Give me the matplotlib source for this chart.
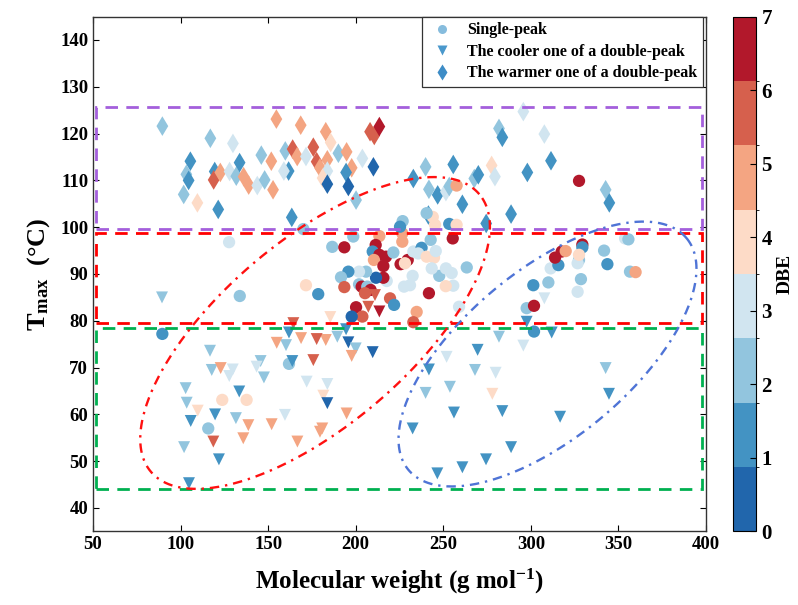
import numpy as np
import matplotlib
matplotlib.use("Agg")
import matplotlib.pyplot as plt
from matplotlib.colors import ListedColormap, BoundaryNorm
from matplotlib.lines import Line2D
from matplotlib.patches import Rectangle

plt.rcParams['font.family'] = ['Liberation Serif', 'DejaVu Serif']
plt.rcParams['font.weight'] = 'bold'
plt.rcParams['mathtext.fontset'] = 'custom'
plt.rcParams['mathtext.rm'] = 'Liberation Serif:bold'
plt.rcParams['mathtext.bf'] = 'Liberation Serif:bold'
plt.rcParams['mathtext.it'] = 'Liberation Serif:bold'

# ---------------- data ----------------
# Single-peak (circles)
single_x = [127.7, 133.8, 89.6, 115.8, 123.8, 137.7, 161.9, 170.1, 186.6, 193.5, 198.6, 213.5,
            211.4, 209.7, 213.5, 217.3, 210.4, 215.8, 221.5, 225.6, 229.7, 228.1, 226.6, 226.6,
            232.9, 237.6, 235.7, 240.5, 244.7, 245.7, 242.8, 255.4, 254.8, 247.7, 243.4, 251.5,
            263.4, 255.7, 251.4, 241.8, 232.5, 227.6, 231.0, 217.7, 215.8, 211.6, 205.9, 201.9,
            195.8, 191.6, 171.6, 178.6, 193.5, 201.9, 203.4, 206.6, 208.5, 205.3, 219.6, 221.9,
            200.2, 203.8, 197.7, 234.8, 232.9, 259.0, 226.8, 225.3, 244.0, 245.3, 253.4, 257.6,
            257.6, 327.5, 297.6, 301.8, 301.8, 301.4, 310.0, 311.3, 315.7, 313.8, 317.6, 319.9,
            327.5, 326.7, 329.4, 329.4, 327.5, 328.6, 326.7, 341.8, 343.7, 353.8, 355.7, 356.6,
            359.8, 240.5]
single_y = [96.8, 85.3, 77.2, 57.0, 63.1, 63.1, 70.8, 99.6, 95.8, 95.7, 98.0, 98.1,
            96.2, 94.8, 94.1, 93.7, 93.0, 91.7, 94.6, 92.1, 93.0, 92.3, 98.7, 96.9,
            94.8, 95.6, 94.4, 93.7, 93.5, 94.9, 97.3, 97.6, 90.2, 89.6, 91.2, 91.2,
            91.4, 87.5, 87.4, 85.9, 89.6, 87.3, 87.6, 88.5, 89.2, 89.2, 90.5, 90.5,
            90.5, 89.3, 87.6, 85.7, 87.2, 87.8, 87.3, 87.3, 86.6, 85.9, 84.8, 83.4,
            82.9, 80.9, 80.9, 81.9, 79.7, 83.0, 101.3, 100.1, 102.2, 100.5, 100.7, 100.5,
            108.9, 109.9, 82.7, 83.2, 77.7, 87.6, 88.2, 91.2, 91.9, 93.5, 94.8, 94.9,
            93.0, 92.3, 96.3, 95.7, 94.1, 88.9, 86.2, 95.0, 92.1, 97.6, 97.4, 90.5,
            90.4, 103.0]
single_dbe = [3, 2, 1, 2, 4, 4, 2, 2, 2, 7, 2, 5,
              7, 1, 7, 7, 5, 7, 2, 7, 7, 4, 5, 5,
              3, 1, 3, 4, 4, 3, 2, 7, 3, 2, 3, 3,
              2, 3, 4, 7, 3, 3, 3, 3, 7, 0, 2, 3,
              1, 2, 4, 1, 6, 2, 7, 2, 7, 6, 6, 1,
              7, 6, 0, 5, 6, 3, 2, 1, 4, 4, 1, 4,
              5, 7, 2, 7, 1, 1, 2, 3, 1, 7, 7, 5,
              2, 3, 7, 1, 4, 2, 3, 2, 1, 3, 2, 2,
              5, 2]

# Cooler one of a double-peak (down triangles)
cooler_x = [89.4, 211.0, 207.2, 213.5, 185.5, 164.4, 161.9, 194.5, 195.8, 200.0, 197.7, 209.7,
            189.5, 182.9, 177.7, 168.8, 160.2, 154.9, 163.8, 175.8, 145.7, 143.4, 147.6, 116.8,
            117.8, 122.9, 129.8, 127.8, 102.9, 103.5, 133.5, 109.8, 105.8, 119.7, 131.6, 138.7,
            152.0, 159.6, 172.0, 183.8, 181.5, 183.8, 179.6, 180.9, 194.8, 166.7, 135.8, 118.7,
            102.0, 121.9, 104.8, 297.6, 311.9, 281.8, 295.7, 307.7, 269.6, 251.9, 241.8, 268.1,
            279.9, 342.7, 239.9, 253.8, 278.0, 344.6, 256.1, 283.7, 316.7, 232.5, 288.7, 274.4,
            260.9, 246.6]
cooler_y = [85.0, 85.5, 83.0, 82.0, 80.8, 79.5, 77.5, 78.2, 75.4, 74.1, 72.5, 73.3,
            76.6, 75.9, 76.1, 76.3, 74.8, 75.3, 71.4, 71.6, 71.4, 70.2, 67.9, 73.6,
            69.5, 69.9, 69.6, 68.2, 65.6, 62.5, 64.9, 60.8, 58.6, 60.0, 59.2, 57.7,
            57.9, 59.9, 67.0, 66.5, 64.0, 62.4, 56.3, 57.0, 60.2, 54.2, 54.9, 54.2,
            53.0, 50.4, 45.3, 79.8, 77.5, 76.6, 74.7, 84.8, 73.8, 72.3, 69.6, 69.5,
            68.9, 69.9, 64.6, 65.9, 64.4, 64.4, 60.4, 60.7, 59.5, 57.0, 53.0, 50.4,
            48.7, 47.4]
cooler_dbe = [2, 6, 6, 7, 4, 6, 1, 1, 0, 2, 5, 0,
              2, 5, 6, 5, 2, 5, 1, 6, 2, 3, 2, 2,
              2, 5, 3, 3, 2, 2, 1, 4, 1, 1, 2, 5,
              5, 3, 3, 3, 4, 0, 5, 5, 5, 5, 5, 6,
              2, 1, 1, 1, 1, 2, 3, 3, 1, 3, 1, 2,
              3, 2, 2, 2, 4, 1, 1, 1, 1, 1, 1, 1,
              1, 1]

# Warmer one of a double-peak (diamonds)
warmer_x = [89.6, 117.0, 129.9, 105.6, 103.3, 104.6, 101.8, 109.6, 121.5, 119.5, 118.9, 122.7,
            128.0, 131.8, 133.7, 136.0, 138.9, 143.8, 148.0, 146.1, 151.8, 152.8, 154.7, 159.8,
            161.7, 159.0, 164.0, 163.5, 168.6, 182.9, 185.7, 166.6, 171.6, 175.8, 177.7, 179.6,
            183.8, 183.8, 181.1, 183.8, 190.1, 194.8, 197.7, 194.5, 195.8, 203.8, 210.1, 208.2,
            210.6, 213.5, 200.2, 232.9, 239.9, 241.8, 246.8, 251.5, 253.4, 255.7, 260.9, 267.7,
            270.0, 274.5, 277.6, 279.5, 295.7, 281.8, 283.7, 307.7, 311.5, 298.0, 342.7, 344.8,
            288.7, 241.5]
warmer_y = [121.6, 119.0, 117.9, 114.1, 111.3, 110.0, 107.0, 105.2, 103.8, 111.9, 110.1, 111.7,
            111.9, 110.9, 113.8, 110.8, 109.0, 108.9, 110.1, 115.4, 114.1, 108.0, 123.1, 116.3,
            112.0, 112.0, 116.7, 102.1, 121.8, 120.4, 118.1, 115.1, 115.1, 117.1, 114.0, 112.7,
            114.4, 112.0, 110.5, 109.2, 115.8, 116.1, 112.7, 111.7, 108.7, 114.7, 112.9, 120.4,
            119.6, 121.5, 105.8, 110.4, 112.9, 108.1, 106.9, 107.6, 108.7, 113.4, 104.9, 110.4,
            111.2, 100.8, 113.2, 110.8, 124.7, 121.1, 119.2, 119.9, 114.2, 111.7, 108.0, 105.2,
            102.8, 102.6]
warmer_dbe = [2, 2, 3, 1, 2, 1, 2, 4, 1, 1, 6, 5,
              3, 2, 1, 5, 5, 3, 2, 2, 5, 5, 5, 2,
              1, 3, 6, 1, 5, 5, 4, 5, 3, 6, 6, 5,
              5, 3, 4, 0, 2, 5, 5, 1, 0, 3, 0, 6,
              6, 7, 2, 1, 2, 2, 1, 3, 2, 1, 1, 2,
              1, 1, 4, 3, 3, 2, 1, 3, 1, 1, 2, 1,
              1, 1]

dbe_ticks = [0, 1, 2, 3, 4, 5, 6, 7]
x_ticks = [50, 100, 150, 200, 250, 300, 350, 400]
y_ticks = [40, 50, 60, 70, 80, 90, 100, 110, 120, 130, 140]

# ---------------- style ----------------
colors8 = ['#2166ac', '#4393c3', '#92c5de', '#d1e5f0',
           '#fddbc7', '#f4a582', '#d6604d', '#b2182b']
cmap = ListedColormap(colors8)
norm = BoundaryNorm(np.linspace(0, 7, 9), cmap.N)

W, H = 798, 605
fig = plt.figure(figsize=(W / 100, H / 100), dpi=100)
ax_l, ax_r, ax_t, ax_b = 93, 706, 16.6, 531.4
ax = fig.add_axes([ax_l / W, (H - ax_b) / H, (ax_r - ax_l) / W, (ax_b - ax_t) / H])
cax = fig.add_axes([733 / W, (H - ax_b) / H, 23 / W, (ax_b - ax_t) / H])

XLIM = (50, 400)
YLIM = (35, 145)

sc = ax.scatter(warmer_x, warmer_y, c=warmer_dbe, cmap=cmap, norm=norm, marker='d',
                s=100, edgecolors='none', zorder=2)
ax.scatter(single_x, single_y, c=single_dbe, cmap=cmap, norm=norm, marker='o',
           s=78, edgecolors='none', zorder=2)
ax.scatter(cooler_x, cooler_y, c=cooler_dbe, cmap=cmap, norm=norm, marker='v',
           s=74, edgecolors='none', zorder=2)

# dashed boxes
boxes = [((51.5, 99.6), 346.5, 26.0, '#a45fdc'),
         ((51.5, 79.5), 346.5, 19.2, '#ff0000'),
         ((51.5, 44.1), 346.5, 34.4, '#00b050')]
for (x0, y0), w, h, col in boxes:
    ax.add_patch(Rectangle((x0, y0), w, h, fill=False, ec=col, lw=2.0,
                           ls=(0, (4.5, 3)), zorder=3))

# ellipses (defined in screen-pixel geometry)
px_per_x = (ax_r - ax_l) / (XLIM[1] - XLIM[0])
px_per_y = (ax_b - ax_t) / (YLIM[1] - YLIM[0])
ellipses = [((176.8, 77.4), 215, 93, 40.2, '#ff1010'),
            ((309.5, 72.9), 181, 83.5, 39.8, '#4f74d6')]
t = np.linspace(0, 2 * np.pi, 400)
for (cx, cy), a, b, ang, col in ellipses:
    th = np.deg2rad(ang)
    dx = a * np.cos(t) * np.cos(th) - b * np.sin(t) * np.sin(th)
    dy = a * np.cos(t) * np.sin(th) + b * np.sin(t) * np.cos(th)
    ax.plot(cx + dx / px_per_x, cy + dy / px_per_y, color=col, lw=1.7,
            ls=(0, (4, 2.5, 1, 2.5)), zorder=3)

ax.set_xlim(*XLIM)
ax.set_ylim(*YLIM)
ax.set_xticks(x_ticks)
ax.set_yticks(y_ticks)
ax.tick_params(direction='in', top=True, right=True, length=4, width=0.8,
               labelsize=13.5)
for lab in ax.get_xticklabels() + ax.get_yticklabels():
    lab.set_fontweight('bold')
for sp in ax.spines.values():
    sp.set_linewidth(1.0)
    sp.set_color('#333333')

ax.set_xlabel('Molecular weight (g mol$^{\\mathbf{-1}}$)', fontsize=18, fontweight='bold',
              labelpad=10)
ax.set_ylabel('$\\mathbf{T}_{\\mathbf{max}}$  (°C)', fontsize=19, fontweight='bold',
              labelpad=6)

# legend
handles = [Line2D([], [], ls='none', marker='o', ms=6.5, mfc='#86bcdd', mec='none'),
           Line2D([], [], ls='none', marker='v', ms=7.5, mfc='#4a98cc', mec='none'),
           Line2D([], [], ls='none', marker='d', ms=8, mfc='#3d8cc6', mec='none')]
labels = ['Single-peak', 'The cooler one of a double-peak', 'The warmer one of a double-peak']
leg = ax.legend(handles, labels, loc='upper right', bbox_to_anchor=(0.995, 1.0),
                borderaxespad=0.0, fancybox=False, framealpha=1, edgecolor='#333333',
                prop={'family': 'Liberation Serif', 'weight': 'bold', 'size': 11.5},
                handlelength=1.8, handletextpad=0.7, labelspacing=0.35, borderpad=0.35)
leg.get_frame().set_linewidth(0.9)
leg.set_zorder(5)

# colorbar
cb = fig.colorbar(sc, cax=cax, ticks=dbe_ticks)
cb.outline.set_linewidth(0.8)
cax.tick_params(direction='in', length=4, width=0.8, labelsize=15, pad=4)
for lab in cax.get_yticklabels():
    lab.set_fontweight('bold')
cb.set_label('DBE', fontsize=14, fontweight='bold', labelpad=3)

fig.savefig('out.png', dpi=100)
